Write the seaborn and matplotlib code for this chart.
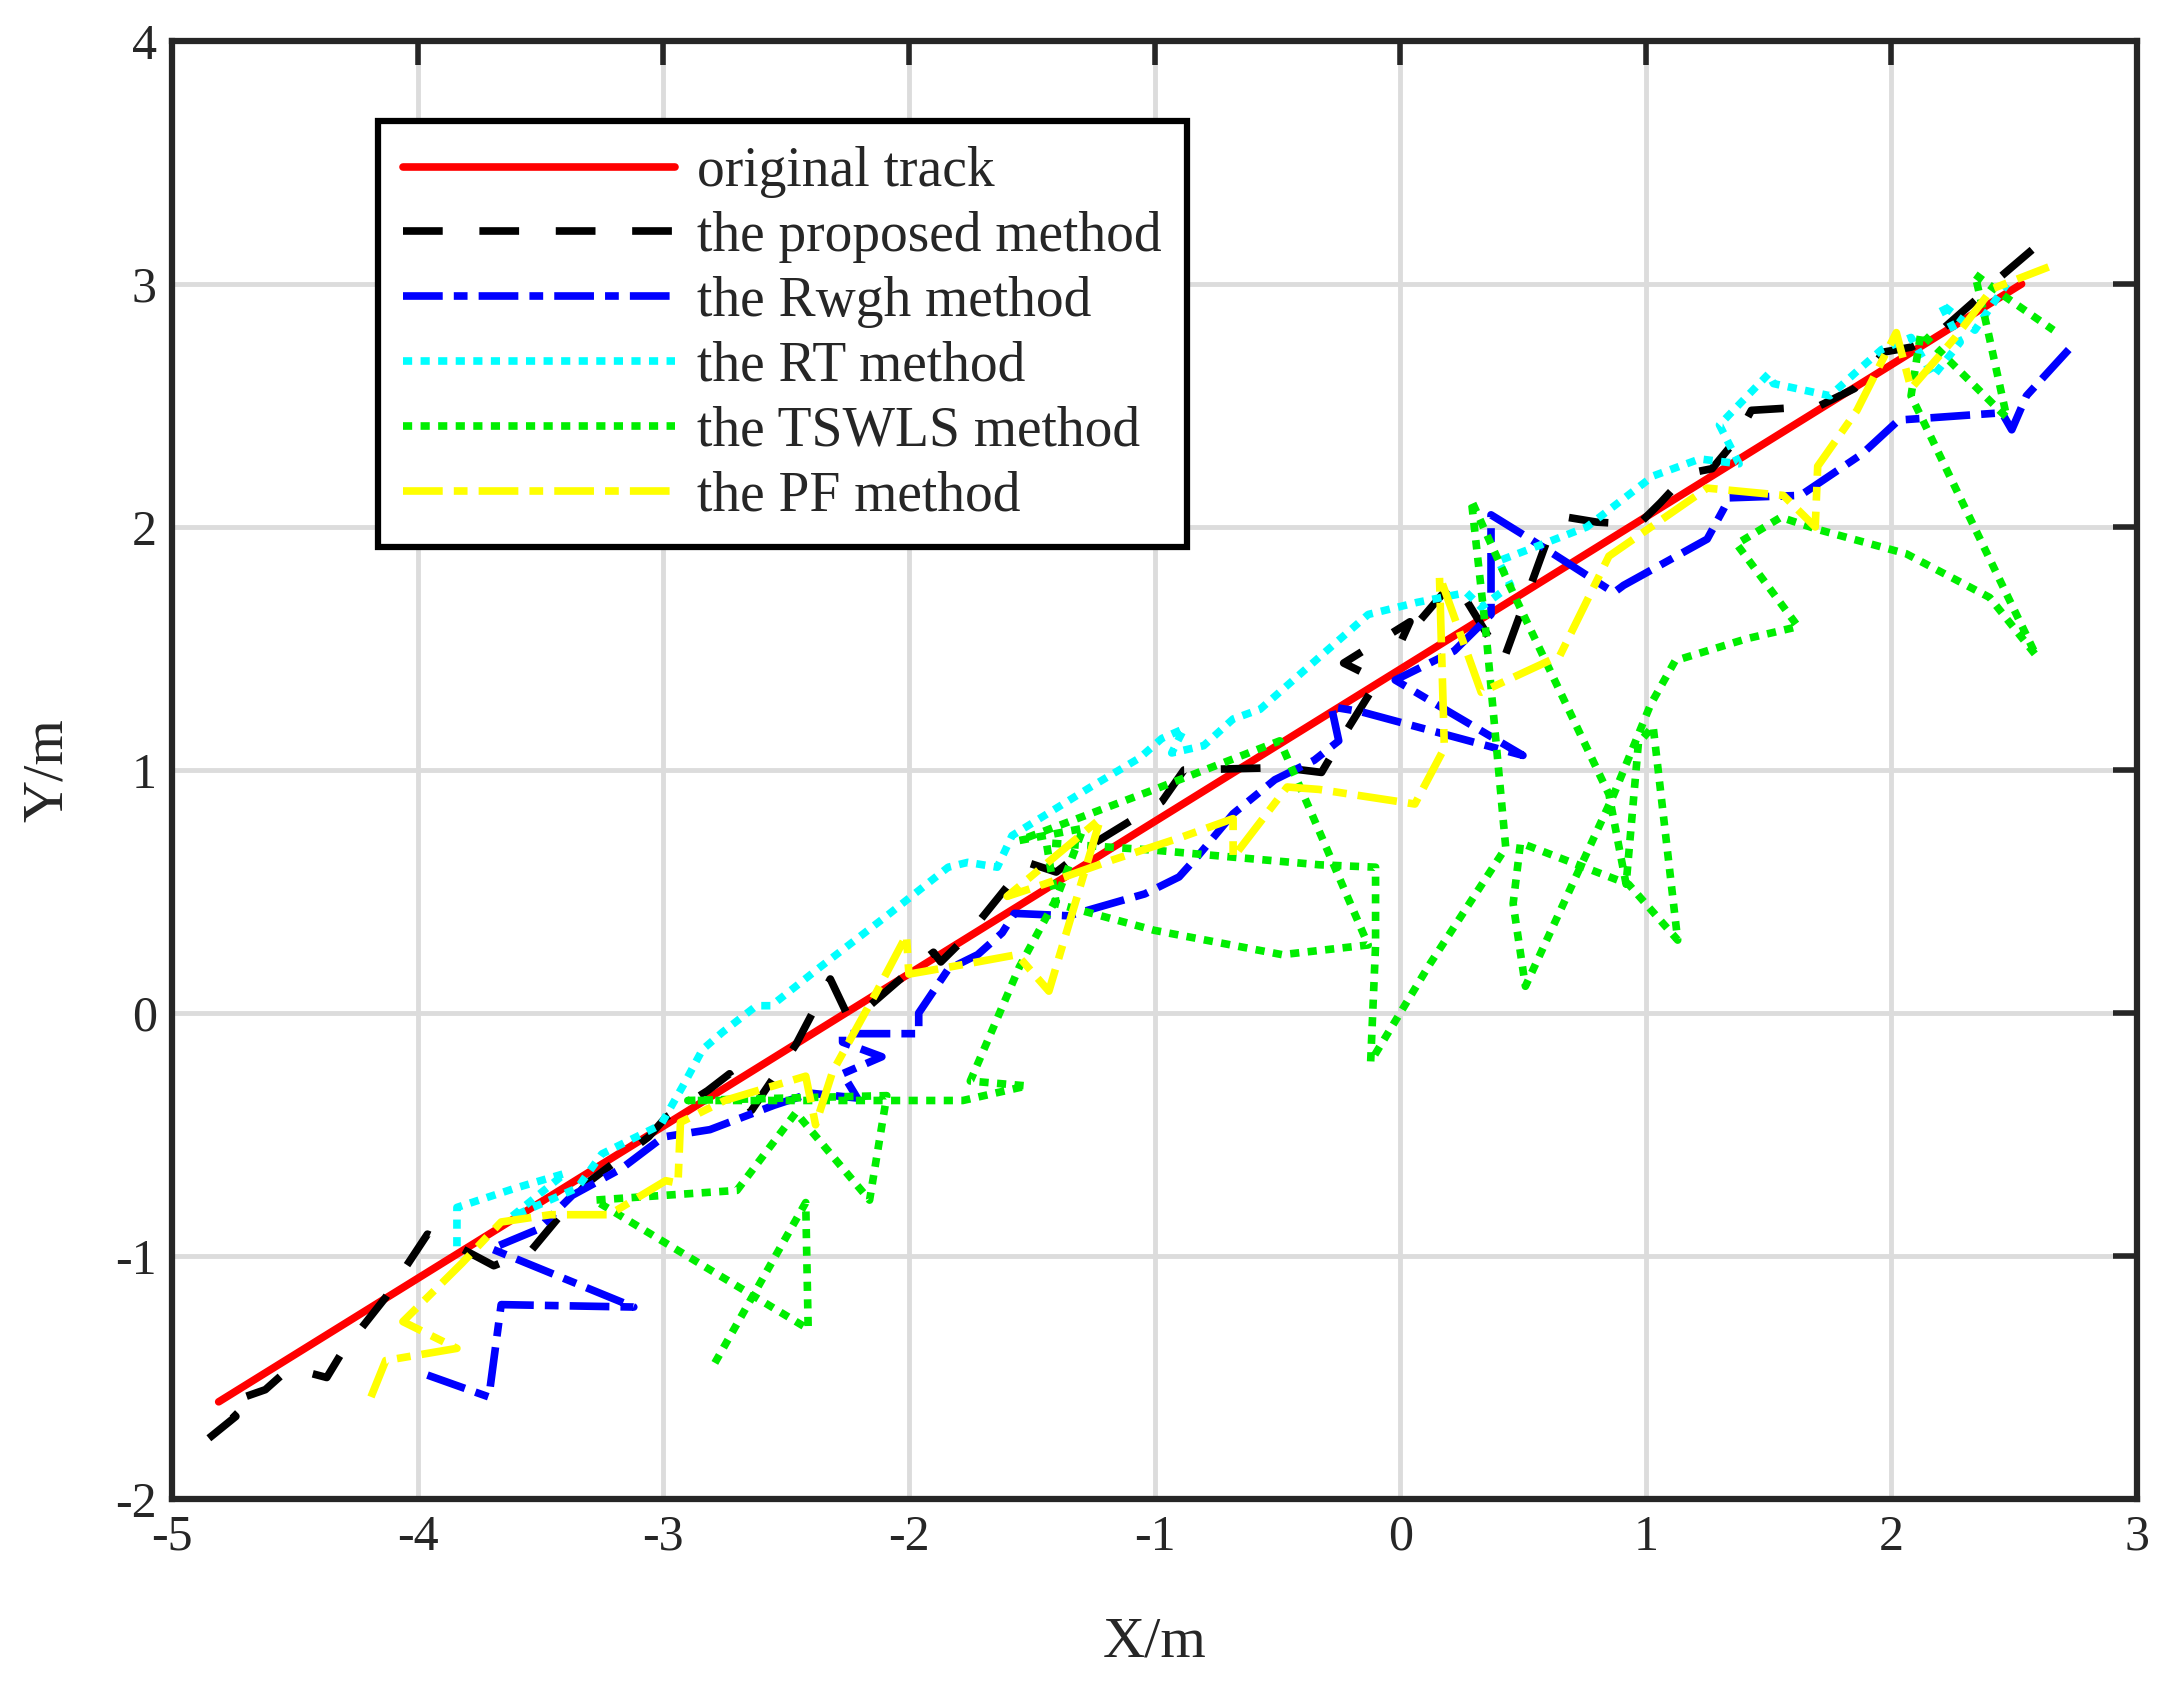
import matplotlib
matplotlib.use("Agg")
import matplotlib.pyplot as plt
import seaborn as sns

# %%
track_x = [-4.81, 2.53]
track_y = [-1.60, 3.00]

proposed_x = [-4.85, -4.74, -4.79, -4.62, -4.52, -4.37, -4.31, -4.13, -3.96, -3.82, -3.69, -3.54, -3.31, -3.06,
              -2.99, -2.82, -2.73, -2.64, -2.54, -2.46, -2.32, -2.24, -2.16, -2.00, -1.90, -1.87, -1.76, -1.52,
              -1.40, -1.26, -0.97, -0.88, -0.48, -0.32, -0.25, -0.09, -0.23, 0.04, 0.00, 0.22, 0.42, 0.60,
              0.68, 0.80, 0.97, 1.06, 1.17, 1.27, 1.36, 1.43, 1.59, 1.71, 1.85, 1.97, 2.08, 2.17, 2.35, 2.41, 2.63]
proposed_y = [-1.75, -1.66, -1.61, -1.55, -1.46, -1.50, -1.40, -1.17, -0.91, -0.97, -1.04, -0.98, -0.70, -0.51,
              -0.43, -0.32, -0.25, -0.40, -0.25, -0.13, 0.14, -0.03, 0.03, 0.17, 0.25, 0.21, 0.32, 0.62,
              0.58, 0.69, 0.87, 1.00, 1.01, 0.99, 1.11, 1.37, 1.44, 1.61, 1.52, 1.78, 1.45, 1.95,
              2.04, 2.02, 2.01, 2.10, 2.22, 2.24, 2.35, 2.48, 2.49, 2.50, 2.57, 2.72, 2.74, 2.78, 2.94, 3.00, 3.19]

rwgh_x = [-3.96, -3.71, -3.66, -3.12, -3.70, -3.51, -3.37, -3.17, -3.00, -2.81, -2.68, -2.55, -2.40, -2.21,
          -2.27, -2.11, -2.27, -2.27, -1.96, -1.96, -1.84, -1.72, -1.62, -1.57, -1.35, -1.04, -0.90, -0.82,
          -0.68, -0.51, -0.35, -0.25, -0.28, -0.16, 0.50, -0.02, 0.22, 0.37, 0.37, 0.53, 0.87, 0.91, 1.25,
          1.32, 1.34, 1.63, 1.88, 2.03, 2.45, 2.49, 2.55, 2.74]
rwgh_y = [-1.49, -1.58, -1.20, -1.21, -0.97, -0.89, -0.75, -0.64, -0.51, -0.48, -0.43, -0.38, -0.33, -0.35,
          -0.25, -0.18, -0.12, -0.085, -0.085, 0.00, 0.18, 0.24, 0.33, 0.41, 0.40, 0.49, 0.56, 0.65,
          0.82, 0.96, 1.04, 1.12, 1.26, 1.24, 1.06, 1.37, 1.49, 1.64, 2.05, 1.95, 1.73, 1.76, 1.95,
          2.08, 2.12, 2.13, 2.30, 2.44, 2.47, 2.40, 2.54, 2.75]

rt_x = [-3.84, -3.84, -3.60, -3.40, -3.62, -3.35, -3.25, -3.01, -2.92, -2.84, -2.76, -2.62, -2.56, -2.36,
        -2.09, -1.84, -1.76, -1.64, -1.58, -1.26, -1.06, -0.97, -0.88, -0.93, -0.80, -0.68, -0.57, -0.30,
        -0.13, 0.07, 0.27, 0.33, 0.45, 0.40, 0.53, 0.76, 1.03, 1.22, 1.38, 1.30, 1.50, 1.52, 1.75, 1.87,
        1.96, 2.08, 2.17, 2.28, 2.20, 2.34, 2.38, 2.47]
rt_y = [-0.96, -0.80, -0.72, -0.66, -0.84, -0.72, -0.58, -0.46, -0.30, -0.15, -0.08, 0.03, 0.03, 0.19,
        0.40, 0.60, 0.62, 0.60, 0.73, 0.93, 1.05, 1.13, 1.17, 1.07, 1.10, 1.21, 1.25, 1.49,
        1.64, 1.69, 1.73, 1.67, 1.76, 1.86, 1.91, 2.00, 2.21, 2.28, 2.26, 2.42, 2.63, 2.59, 2.54, 2.65,
        2.73, 2.78, 2.62, 2.76, 2.92, 2.81, 2.87, 3.00]

tswls_x = [-2.79, -2.42, -2.41, -3.28, -2.70, -2.46, -2.16, -2.09, -2.90, -1.78, -1.52, -1.75, -1.55, -1.40,
           -1.29, -1.55, -1.00, -0.49, -0.36, -0.13, -0.48, -1.00, -1.40, -1.44, -1.00, -0.33, -0.10, -0.10,
           -0.12, 0.12, 0.43, 0.35, 0.29, 0.45, 0.85, 0.92, 0.97, 1.03, 1.13, 0.93, 0.49, 0.46, 0.51, 0.87,
           1.02, 1.12, 1.41, 1.62, 1.37, 1.55, 1.70, 2.06, 2.40, 2.59, 2.08, 2.12, 2.47, 2.39, 2.34, 2.46, 2.66]
tswls_y = [-1.44, -0.78, -1.30, -0.77, -0.73, -0.41, -0.77, -0.34, -0.36, -0.36, -0.30, -0.28, 0.19, 0.47,
           0.76, 0.71, 0.92, 1.12, 0.82, 0.28, 0.24, 0.34, 0.45, 0.70, 0.67, 0.61, 0.60, 0.28,
           -0.20, 0.20, 0.68, 1.56, 2.11, 1.75, 0.90, 0.53, 1.11, 1.18, 0.30, 0.53, 0.70, 0.45, 0.11, 0.90,
           1.27, 1.45, 1.54, 1.59, 1.93, 2.04, 1.99, 1.89, 1.71, 1.47, 2.54, 2.80, 2.45, 2.82, 3.04, 2.95, 2.81]

pf_x = [-4.19, -4.13, -3.84, -4.06, -3.82, -3.66, -3.46, -3.22, -2.99, -2.94, -2.93, -2.75, -2.42, -2.38,
        -2.31, -2.13, -2.01, -2.00, -1.83, -1.56, -1.43, -1.22, -1.60, -1.45, -1.17, -0.90, -0.68, -0.68,
        -0.46, -0.33, 0.06, 0.18, 0.16, 0.33, 0.65, 0.85, 1.25, 1.56, 1.62, 1.69, 1.70, 1.86, 2.02, 2.08,
        2.26, 2.41, 2.64]
pf_y = [-1.58, -1.43, -1.38, -1.27, -1.03, -0.86, -0.83, -0.83, -0.69, -0.70, -0.45, -0.36, -0.26, -0.46,
        -0.24, 0.09, 0.32, 0.16, 0.19, 0.24, 0.09, 0.80, 0.48, 0.53, 0.63, 0.72, 0.80, 0.64,
        0.93, 0.92, 0.86, 1.09, 1.80, 1.32, 1.47, 1.88, 2.16, 2.13, 2.07, 2.00, 2.25, 2.48, 2.80, 2.57,
        2.78, 2.98, 3.07]

labels = ["original track", "the proposed method", "the Rwgh method",
          "the RT method", "the TSWLS method", "the PF method"]

# %%
sns.set_theme(style="white")
plt.rcParams["font.family"] = ["Liberation Serif", "DejaVu Serif"]
plt.rcParams["axes.unicode_minus"] = False

fig = plt.figure(figsize=(21.61, 16.86), dpi=100)
ax = fig.add_axes([0.0796, 0.1109, 0.9093, 0.8648])

lw = 5.5
dashdot = (0, (5.2, 1.45, 1.8, 1.45))
dots = (0, (1.2, 1.1))
series = [
    (track_x, track_y, "#ff0000", "-"),
    (proposed_x, proposed_y, "#000000", (0, (5.2, 4.8))),
    (rwgh_x, rwgh_y, "#0000ff", dashdot),
    (rt_x, rt_y, "#00ffff", dots),
    (tswls_x, tswls_y, "#00ee00", dots),
    (pf_x, pf_y, "#ffff00", dashdot),
]
for (xs, ys, c, ls), lab in zip(series, labels):
    sns.lineplot(x=xs, y=ys, sort=False, estimator=None, color=c, lw=lw,
                 linestyle=ls, label=lab, ax=ax)

ax.set_xlim(-5, 3)
ax.set_ylim(-2, 4)
ax.set_xticks(range(-5, 4))
ax.set_yticks(range(-2, 5))
ax.grid(True, color="#dcdcdc", lw=3.5)
ax.set_axisbelow(True)
for s in ax.spines.values():
    s.set_color("#262626")
    s.set_linewidth(4.5)
ax.tick_params(direction="in", length=17, width=4, color="#262626",
               top=True, right=True, labelsize=36, pad=11)

ax.set_xlabel("X/m", fontsize=42, labelpad=40)
ax.set_ylabel("Y/m", fontsize=42, labelpad=30)

leg = ax.legend(loc="upper left", bbox_to_anchor=(0.1048, 0.945), borderaxespad=0,
                fontsize=40, handlelength=4.9, handletextpad=0.4, labelspacing=0.23,
                borderpad=0.45, fancybox=False, framealpha=1, edgecolor="black")
leg.get_frame().set_linewidth(4.5)

fig.savefig("out.png", dpi=100)
